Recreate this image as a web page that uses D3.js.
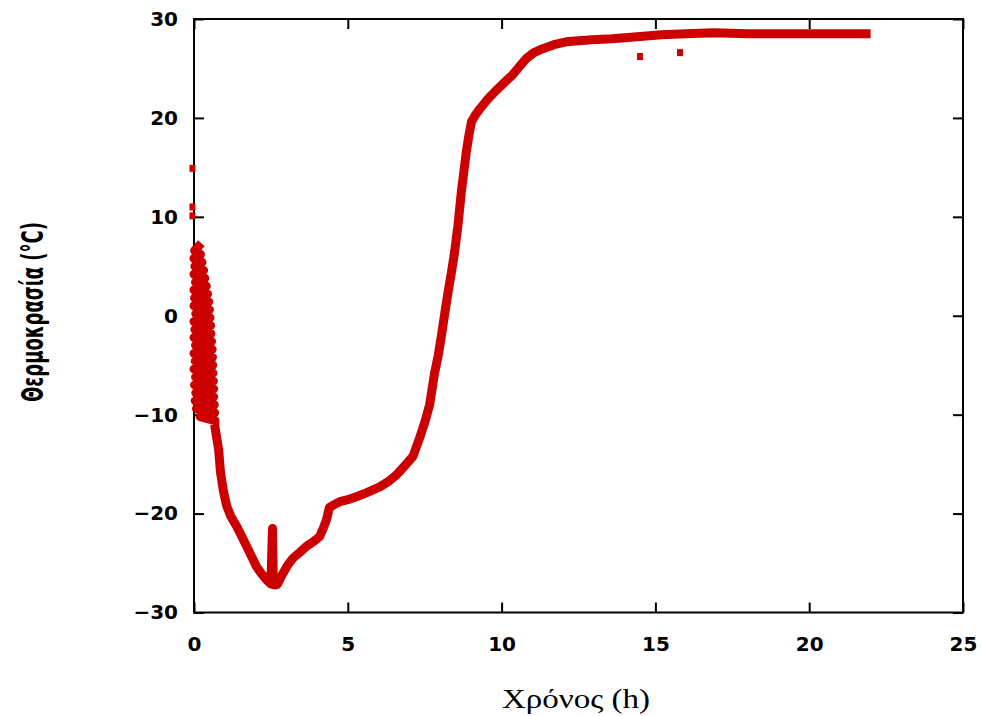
<!DOCTYPE html>
<html>
<head>
<meta charset="utf-8">
<script src="https://cdn.jsdelivr.net/npm/d3@7"></script>
<style>
  html, body { margin: 0; padding: 0; background: #fff; }
  svg { display: block; }
</style>
</head>
<body>
<svg id="chart" width="983" height="716"></svg>
<script>
// Temperature log: time (h) against temperature (°C).
// The first stretch is the noisy start-up phase, where readings jump back and forth.
const hours = [
  0.14, 0.02, 0.21, 0.00, 0.26, 0.03, 0.31, 0.00, 0.35, 0.05, 0.40, 0.00, 0.44, 0.02, 0.48, 0.00,
  0.50, 0.06, 0.52, 0.00, 0.54, 0.03, 0.55, 0.00, 0.57, 0.05, 0.59, 0.00, 0.60, 0.04, 0.61, 0.00,
  0.62, 0.05, 0.63, 0.02, 0.64, 0.06, 0.64, 0.04, 0.66, 0.08, 0.67, 0.20, 0.68, 0.68,
  0.72, 0.80, 0.86, 0.96, 1.07, 1.20, 1.39, 1.55, 1.71, 1.88, 2.04, 2.20, 2.36, 2.50, 2.55,
  2.58, 2.70, 2.80, 2.90, 3.05, 3.22, 3.45, 3.66, 3.90, 4.09, 4.20, 4.31, 4.40, 4.55, 4.74, 5.00,
  5.28, 5.60, 6.04, 6.30, 6.58, 6.90, 7.12, 7.34, 7.50, 7.66, 7.82, 7.94, 8.04, 8.15, 8.26, 8.37,
  8.47, 8.58, 8.69, 8.77, 8.85, 8.94, 9.02, 9.15, 9.29, 9.55, 9.83, 10.10, 10.37, 10.58, 10.80, 11.05,
  11.34, 11.70, 12.10, 12.50, 12.95, 13.60, 14.40, 15.20, 16.00, 16.90, 18.00, 19.00, 20.00, 21.00, 21.85
];
const tempC = [
  7.0, 6.6, 6.2, 5.8, 5.4, 5.0, 4.6, 4.2, 3.8, 3.4, 3.0, 2.6, 2.2, 1.8, 1.4, 1.0,
  0.6, 0.2, -0.2, -0.6, -1.0, -1.4, -1.8, -2.2, -2.6, -3.0, -3.4, -3.8, -4.2, -4.6, -5.0, -5.4,
  -5.8, -6.2, -6.6, -7.0, -7.4, -7.8, -8.2, -8.6, -9.0, -9.4, -9.8, -10.2, -10.6, -11.2,
  -12.0, -13.5, -15.8, -17.8, -19.3, -20.3, -21.3, -22.3, -23.3, -24.4, -25.4, -26.1, -26.7, -27.1, -21.5,
  -27.2, -27.2, -26.6, -26.0, -25.2, -24.5, -23.9, -23.3, -22.8, -22.3, -21.5, -20.6, -19.4, -19.1, -18.8, -18.6,
  -18.3, -17.9, -17.3, -16.8, -16.1, -15.0, -14.2, -12.3, -10.8, -9.0, -5.8, -4.0, -2.1, 0.2, 2.4, 4.4,
  6.4, 9.1, 12.5, 14.5, 16.5, 18.3, 19.6, 20.3, 20.9, 21.9, 22.8, 23.6, 24.4, 25.2, 26.0, 26.6,
  27.0, 27.4, 27.7, 27.8, 27.9, 28.0, 28.2, 28.4, 28.5, 28.6, 28.5, 28.5, 28.5, 28.5, 28.5
];

// Isolated readings away from the main trace
const strayHours = [-0.05, -0.05, -0.05, 14.5, 15.8];
const strayTemp  = [14.9, 11.0, 10.1, 26.2, 26.6];

const xTicks = [0, 5, 10, 15, 20, 25];
const yTicks = [-30, -20, -10, 0, 10, 20, 30];
const xTitle = "Χρόνος (h)";
const yTitle = "Θερμοκρασία (°C)";

const svg = d3.select("#chart");
const plotLeft = 194, plotRight = 963, plotTop = 19, plotBottom = 612.5;

const x = d3.scaleLinear().domain([0, 25]).range([plotLeft, plotRight]);
const y = d3.scaleLinear().domain([-30, 30]).range([plotBottom, plotTop]);

const tickFont = "'DejaVu Sans', sans-serif";

function styleAxis(g) {
  g.select(".domain").remove();
  g.selectAll(".tick line").attr("stroke", "#000").attr("stroke-width", 2);
  g.selectAll(".tick text")
    .attr("fill", "#000")
    .style("font-family", tickFont)
    .style("font-weight", "bold")
    .style("font-size", "20px");
}

svg.append("g")
  .attr("transform", `translate(${plotLeft},0)`)
  .call(d3.axisLeft(y).tickValues(yTicks).tickSizeInner(-10).tickSizeOuter(0).tickPadding(16))
  .call(styleAxis);

svg.append("g")
  .attr("transform", `translate(${plotRight},0)`)
  .call(d3.axisRight(y).tickValues(yTicks).tickSizeInner(-10).tickSizeOuter(0).tickFormat(""))
  .call(styleAxis);

svg.append("g")
  .attr("transform", `translate(0,${plotBottom})`)
  .call(d3.axisBottom(x).tickValues(xTicks).tickSizeInner(-10).tickSizeOuter(0).tickPadding(24))
  .call(styleAxis);

svg.append("g")
  .attr("transform", `translate(0,${plotTop})`)
  .call(d3.axisTop(x).tickValues(xTicks).tickSizeInner(-10).tickSizeOuter(0).tickFormat(""))
  .call(styleAxis);

// Plot frame
svg.append("rect")
  .attr("x", plotLeft).attr("y", plotTop)
  .attr("width", plotRight - plotLeft).attr("height", plotBottom - plotTop)
  .attr("fill", "none").attr("stroke", "#000").attr("stroke-width", 2);

// Temperature trace
const pts = hours.map((h, i) => [h, tempC[i]]);
const line = d3.line().x(d => x(d[0])).y(d => y(d[1]));
svg.append("path")
  .datum(pts)
  .attr("d", line)
  .attr("fill", "none")
  .attr("stroke", "#cc0000")
  .attr("stroke-width", 9)
  .attr("stroke-linejoin", "round")
  .attr("stroke-linecap", "square");

// Stray readings as square markers
svg.append("g").selectAll("rect")
  .data(strayHours.map((h, i) => [h, strayTemp[i]]))
  .join("rect")
  .attr("x", d => x(d[0]) - 3)
  .attr("y", d => y(d[1]) - 3.5)
  .attr("width", 6).attr("height", 7)
  .attr("fill", "#cc0000");

// Axis titles
svg.append("text")
  .attr("x", 576)
  .attr("y", 708)
  .attr("text-anchor", "middle")
  .attr("textLength", 148)
  .attr("lengthAdjust", "spacingAndGlyphs")
  .style("font-family", "'Liberation Serif', 'Times New Roman', serif")
  .style("font-size", "28px")
  .attr("fill", "#000")
  .text(xTitle);

svg.append("text")
  .attr("transform", "translate(43,312) rotate(-90)")
  .attr("text-anchor", "middle")
  .attr("textLength", 180)
  .attr("lengthAdjust", "spacingAndGlyphs")
  .style("font-family", "'DejaVu Sans', sans-serif")
  .style("font-weight", "bold")
  .style("font-size", "30px")
  .attr("fill", "#000")
  .text(yTitle);
</script>
</body>
</html>
